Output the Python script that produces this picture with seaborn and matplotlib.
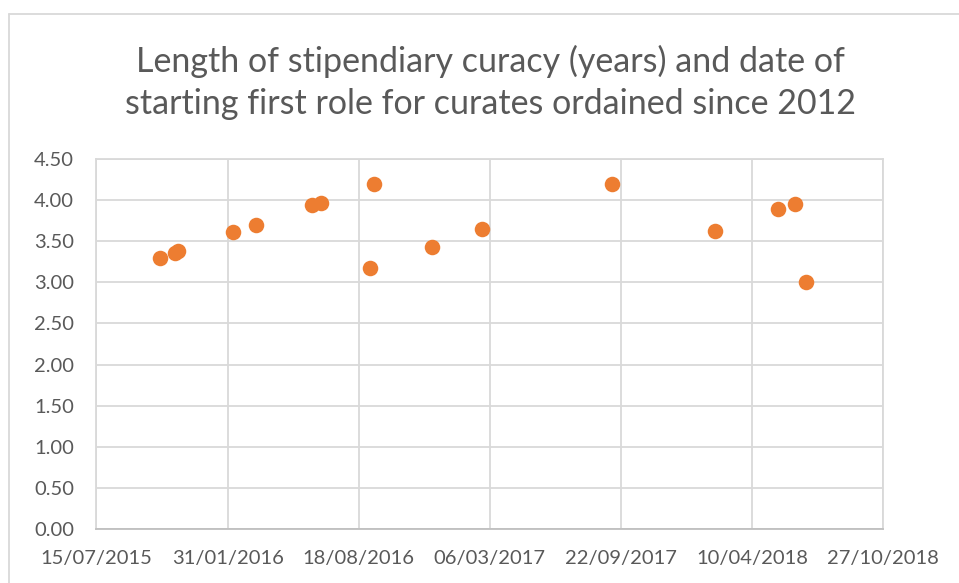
import pandas as pd
import matplotlib.pyplot as plt
import matplotlib.dates as mdates
from matplotlib.lines import Line2D
import seaborn as sns

# baslangic tarihleri ve curacy suresi (yil)
start_dates = ["2015-10-20", "2015-11-12", "2015-11-17", "2016-02-09", "2016-03-14",
               "2016-06-08", "2016-06-21", "2016-09-11", "2016-09-05", "2016-12-08",
               "2017-02-22", "2017-09-09", "2018-02-13", "2018-05-19", "2018-06-14",
               "2018-07-02"]
years = [3.30, 3.36, 3.38, 3.61, 3.70, 3.94, 3.97, 4.20, 3.18, 3.43,
         3.65, 4.20, 3.63, 3.89, 3.95, 3.00]

x_ticks = ["2015-07-15", "2016-01-31", "2016-08-18", "2017-03-06",
           "2017-09-22", "2018-04-10", "2018-10-27"]
y_ticks = [0.0, 0.5, 1.0, 1.5, 2.0, 2.5, 3.0, 3.5, 4.0, 4.5]

title = "Length of stipendiary curacy (years) and date of\nstarting first role for curates ordained since 2012"

df = pd.DataFrame({"start": pd.to_datetime(start_dates), "years": years})
tick_dates = pd.to_datetime(x_ticks)

sns.set_style("white")
plt.rcParams["font.family"] = ["Lato", "DejaVu Sans"]

text_col = "#595959"
grid_col = "#D9D9D9"

fig = plt.figure(figsize=(9.59, 5.83), dpi=100)
ax = fig.add_axes([0.1006, 0.0926, 0.8202, 0.6346])

sns.scatterplot(data=df, x="start", y="years", ax=ax, color="#ED7D31",
                s=125, linewidth=0, zorder=3)

ax.set_xlim(tick_dates[0], tick_dates[-1])
ax.set_ylim(0, 4.5)
ax.set_xticks(tick_dates)
ax.xaxis.set_major_formatter(mdates.DateFormatter("%d/%m/%Y"))
ax.set_yticks(y_ticks)
ax.set_yticklabels([f"{v:.2f}" for v in y_ticks])
ax.grid(True, color=grid_col, linewidth=1.3)
ax.set_axisbelow(True)
ax.set_xlabel("")
ax.set_ylabel("")
ax.tick_params(axis="both", colors=text_col, labelsize=14.5, length=0)
ax.tick_params(axis="x", pad=15)
ax.tick_params(axis="y", pad=16)
for side in ["top", "right", "left"]:
    ax.spines[side].set_color(grid_col)
    ax.spines[side].set_linewidth(1.3)
ax.spines["bottom"].set_color("#BFBFBF")
ax.spines["bottom"].set_linewidth(1.3)

fig.text(0.511, 0.859, title, ha="center", va="center", fontsize=24.5,
         color=text_col, linespacing=1.4)

# rahmen
fig.add_artist(Line2D([9 / 959, 1], [1 - 14 / 583, 1 - 14 / 583],
                      transform=fig.transFigure, color=grid_col, linewidth=1.3))
fig.add_artist(Line2D([9 / 959, 9 / 959], [0, 1 - 14 / 583],
                      transform=fig.transFigure, color=grid_col, linewidth=1.3))

fig.savefig("out.png", dpi=100)
